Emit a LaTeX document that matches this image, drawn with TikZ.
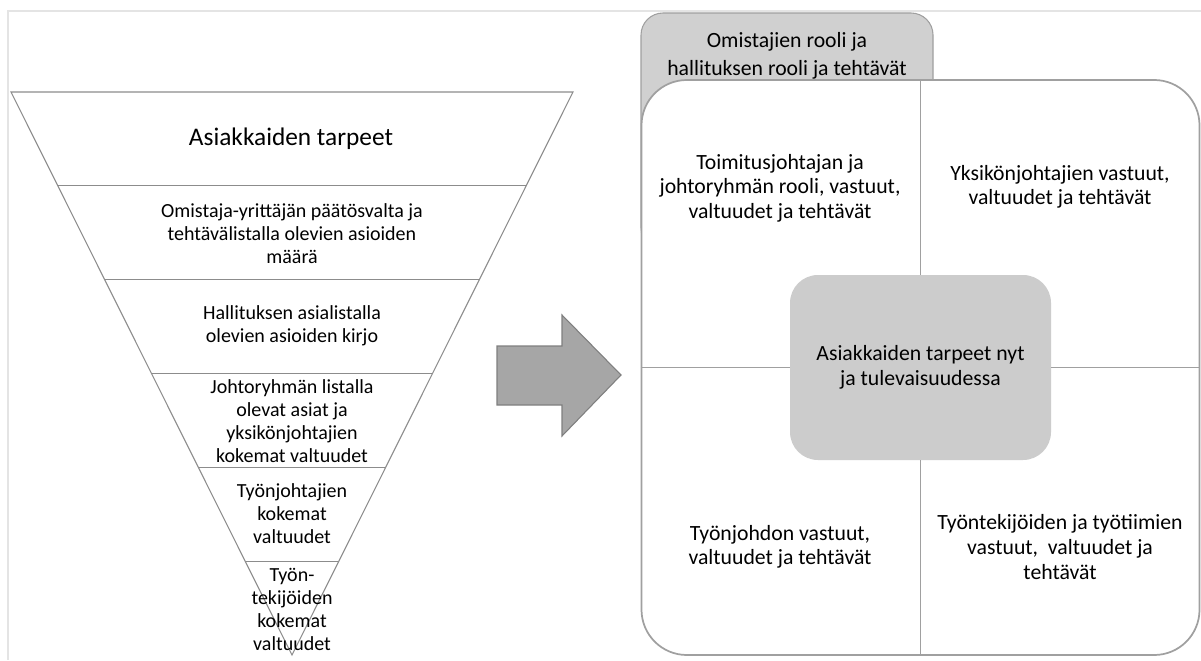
\documentclass[tikz,border=0pt]{standalone}
\usepackage{fontspec}
\setmainfont{Carlito}
\usetikzlibrary{calc}
\definecolor{framegray}{HTML}{E4E4E4}
\definecolor{linegray}{HTML}{8C8C8C}
\definecolor{boxgray}{HTML}{A0A0A0}
\definecolor{tabgray}{HTML}{D0D0D0}
\definecolor{coregray}{HTML}{CCCCCC}
\definecolor{arrowfill}{HTML}{A6A6A6}
\definecolor{arrowdraw}{HTML}{7F7F7F}
\begin{document}
\begin{tikzpicture}[x=0.75pt,y=-0.75pt,
  lbl/.style={align=center, inner sep=0pt, font=\fontsize{15}{17.25}\selectfont},
  biglbl/.style={align=center, inner sep=0pt, font=\fontsize{19}{22}\selectfont},
  rlbl/.style={align=center, inner sep=0pt, font=\fontsize{16.3}{18.4}\selectfont},
  tablbl/.style={align=center, inner sep=0pt, font=\fontsize{16.3}{20.7}\selectfont},
  funnel/.style={draw=linegray, line width=0.8pt},
  divider/.style={draw=boxgray, line width=1.1pt},
  frameline/.style={draw=framegray, line width=1.5pt}]
\useasboundingbox (0,0) rectangle (1201,660);
% outer frame
\coordinate (F1) at (7.5,660);
\coordinate (F2) at (7.5,11);
\coordinate (F3) at (1201,11);
\draw[frameline] (F1) -- (F2) -- (F3);
% funnel
\coordinate (TL) at (11,92);
\coordinate (TR) at (573,92);
\coordinate (AP) at (292,655);
\draw[funnel] (TL) -- (TR) -- (AP) -- cycle;
\foreach \k in {1,...,5}
  \draw[funnel] ($(TL)!\k/6!(AP)$) -- ($(TR)!\k/6!(AP)$);
\node[biglbl] (f1) at (291,139) {Asiakkaiden tarpeet};
\node[lbl] (f2) at (292,234) {Omistaja-yrittäjän päätösvalta ja\\tehtävälistalla olevien asioiden\\määrä};
\node[lbl] (f3) at (292,326) {Hallituksen asialistalla\\olevien asioiden kirjo};
\node[lbl] (f4) at (292,421) {Johtoryhmän listalla\\olevat asiat ja\\yksikönjohtajien\\kokemat valtuudet};
\node[lbl] (f5) at (292,514) {Työnjohtajien\\kokemat\\valtuudet};
\node[lbl] (f6) at (292,609) {Työn-\\tekijöiden\\kokemat\\valtuudet};
% arrow
\draw[fill=arrowfill, draw=arrowdraw, line width=0.8pt, line join=miter]
  (497,346) -- (562,346) -- (562,315) -- (621,375) -- (562,436) -- (562,405) -- (497,405) -- cycle;
% tab
\draw[fill=tabgray, draw=boxgray, line width=0.8pt, rounded corners=16.5pt]
  (641,13) rectangle (933,250);
\node[tablbl] (tab) at (787,56) {Omistajien rooli ja\\hallituksen rooli ja tehtävät};
% main box
\node[draw=boxgray, line width=1.3pt, fill=white, rounded corners=34pt,
      minimum width=418.5pt, minimum height=431.25pt, inner sep=0pt] (main) at (920.5,367.5) {};
% centre box
\node[fill=coregray, rounded corners=21pt, minimum width=195.75pt, minimum height=138.75pt,
      inner sep=0pt, align=center, font=\fontsize{16.3}{18.4}\selectfont] (core) at (920.5,367.5)
  {Asiakkaiden tarpeet nyt\\ja tulevaisuudessa};
% dividers
\draw[divider] (main.north -| core.north) -- (core.north);
\draw[divider] (core.south) -- (main.south -| core.south);
\draw[divider] (main.west |- core.west) -- (core.west);
\draw[divider] (core.east) -- (main.east |- core.east);
% quadrant labels
\node[rlbl] (q1) at (780,188) {Toimitusjohtajan ja\\johtoryhmän rooli, vastuut,\\valtuudet ja tehtävät};
\node[rlbl] (q2) at (1060,187) {Yksikönjohtajien vastuut,\\valtuudet ja tehtävät};
\node[rlbl] (q3) at (780,547) {Työnjohdon vastuut,\\valtuudet ja tehtävät};
\node[rlbl] (q4) at (1060,547) {Työntekijöiden ja työtiimien\\vastuut,\ \ valtuudet ja\\tehtävät};
\end{tikzpicture}
\end{document}
